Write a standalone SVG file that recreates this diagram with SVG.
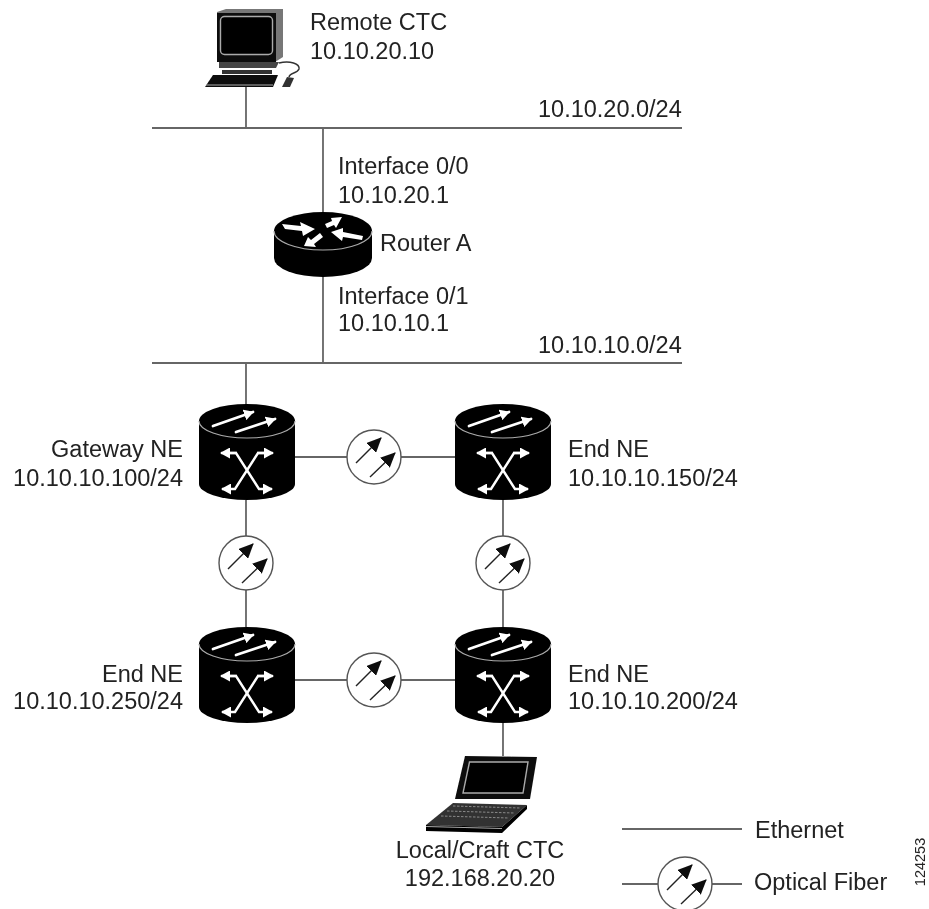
<svg xmlns="http://www.w3.org/2000/svg" width="929" height="909" viewBox="0 0 929 909">
<style>
text{font-family:"Liberation Sans",Arial,sans-serif;font-size:23.5px;fill:#222}
.e{text-anchor:end}
.m{text-anchor:middle}
.c{fill:none;stroke:#666;stroke-width:1.8}
.w{fill:none;stroke:#fff;stroke-width:2.4}
.wt{fill:none;stroke:#fff;stroke-width:2.8;stroke-linecap:round}
.f{fill:none;stroke:#333;stroke-width:1.5}
</style>
<defs>
<filter id="soft" x="0" y="0" width="100%" height="100%"><feGaussianBlur stdDeviation="0.4"/></filter>
<marker id="hw" markerUnits="userSpaceOnUse" markerWidth="11" markerHeight="11" refX="9" refY="5.500" orient="auto"><path d="M0,0L10,5.500L0,11z" fill="#fff"/></marker>
<marker id="hb" markerUnits="userSpaceOnUse" markerWidth="16" markerHeight="14" refX="14" refY="7" orient="auto"><path d="M0,0L15,7L0,14z" fill="#111"/></marker>
<g id="sw">
<path d="M-48,-31A48,17 0 0 1 48,-31V32A48,16 0 0 1 -48,32Z" fill="#000"/>
<path d="M-48,-31A48,17 0 0 0 48,-31" fill="none" stroke="#aaa" stroke-width="1.200"/>
<path class="wt" d="M-34,-26L6,-40" marker-end="url(#hw)"/>
<path class="wt" d="M-11,-20L28,-33" marker-end="url(#hw)"/>
<path class="w" d="M-17,1H-11L12,37H25" marker-end="url(#hw)"/>
<path class="w" d="M17,1H11L-12,37H-25" marker-end="url(#hw)"/>
<path class="w" d="M-10,1H-26" marker-end="url(#hw)"/>
<path class="w" d="M10,1H26" marker-end="url(#hw)"/>
</g>
<g id="fb">
<circle r="27" fill="#fff" stroke="#555" stroke-width="1.400"/>
<path d="M-18,6L7,-19" fill="none" stroke="#222" stroke-width="1.400" marker-end="url(#hb)"/>
<path d="M-4,20L21,-4" fill="none" stroke="#222" stroke-width="1.400" marker-end="url(#hb)"/>
</g>
</defs>
<g filter="url(#soft)">
<g id="connectors">
<path class="c" d="M152,128H682M152,363H682"/>
<path class="c" d="M246,87V128M323,128V213M323,277V363M246,363V405"/>
<path class="c" d="M295,457H347M401,457H455M295,680H347M401,680H455"/>
<path class="c" d="M246,500V536M246,590V627M503,500V536M503,590V627M503,722V756"/>
<path class="c" d="M622,829H742M622,884H660M711,884H742"/>
</g>
<g id="remote-ctc">
<path d="M217,12L226,9H283V57L275,62H217Z" fill="#777"/>
<rect x="217" y="13" width="59" height="49" fill="#111"/>
<rect x="220.500" y="16.500" width="52" height="38" rx="4" fill="#000" stroke="#aaa" stroke-width="1.400"/>
<path d="M219,62H279L276,68H219Z" fill="#444"/>
<path d="M222,70H272V74H222Z" fill="#333"/>
<path d="M213,75H278L273,87H205Z" fill="#111"/>
<path d="M206,85H273" stroke="#aaa" stroke-width="1.200"/>
<path class="f" d="M279,63C290,60 300,64 299,69C297,74 290,72 289,77"/>
<path d="M287,77L294,78L290,87L282,87Z" fill="#333"/>
<text x="310" y="30">Remote CTC</text>
<text x="310" y="59">10.10.20.10</text>
</g>
<g id="router-a">
<path d="M274,231A49,19 0 0 1 372,231V258A49,19 0 0 1 274,258Z" fill="#000"/>
<path d="M274,231A49,19 0 0 0 372,231" fill="none" stroke="#aaa" stroke-width="1.200"/>
<path fill="#fff" d="M282,224L301,226L300,222L315,229L303,236L302,231L285,229Z"/>
<path fill="#fff" d="M342,217L331,218L332,221L325,224L327,228L334,225L336,228Z"/>
<path fill="#fff" d="M331,232L343,228L343,232L363,236L362,240L343,237L342,241Z"/>
<path fill="#fff" d="M304,246L308,237L311,240L320,233L323,237L314,244L316,247Z"/>
<text x="380" y="251">Router A</text>
</g>
<g id="net-20"><text x="538" y="117">10.10.20.0/24</text></g>
<g id="if-00"><text x="338" y="174">Interface 0/0</text><text x="338" y="203">10.10.20.1</text></g>
<g id="if-01"><text x="338" y="304">Interface 0/1</text><text x="338" y="331">10.10.10.1</text></g>
<g id="net-10"><text x="538" y="353">10.10.10.0/24</text></g>
<g id="gateway-ne"><use href="#sw" x="247" y="452"/><text class="e" x="183" y="457">Gateway NE</text><text class="e" x="183" y="486">10.10.10.100/24</text></g>
<g id="end-ne-150"><use href="#sw" x="503" y="452"/><text x="568" y="457">End NE</text><text x="568" y="486">10.10.10.150/24</text></g>
<g id="end-ne-250"><use href="#sw" x="247" y="675"/><text class="e" x="183" y="682">End NE</text><text class="e" x="183" y="709">10.10.10.250/24</text></g>
<g id="end-ne-200"><use href="#sw" x="503" y="675"/><text x="568" y="682">End NE</text><text x="568" y="709">10.10.10.200/24</text></g>
<g id="fiber-top"><use href="#fb" x="374" y="457"/></g>
<g id="fiber-left"><use href="#fb" x="246" y="563"/></g>
<g id="fiber-right"><use href="#fb" x="503" y="563"/></g>
<g id="fiber-bottom"><use href="#fb" x="374" y="680"/></g>
<g id="local-ctc">
<path d="M465,756L537,757L530,799H455Z" fill="#111"/>
<path d="M469.500,762L528,762L523,793H463Z" fill="#000" stroke="#aaa" stroke-width="1.400"/>
<path d="M453,803L527,805L502,827L426,825Z" fill="#333"/>
<path d="M453,806L520,808M447,811L514,813M441,816L509,818" stroke="#888" stroke-width="1" stroke-dasharray="2.500 1.500"/>
<path d="M426,825L502,827L527,805V809L502,833L426,831Z" fill="#000"/>
<path d="M426,826.500L502,828.500" stroke="#aaa" stroke-width="1"/>
<text class="m" x="480" y="858">Local/Craft CTC</text>
<text class="m" x="480" y="886">192.168.20.20</text>
</g>
<g id="legend">
<use href="#fb" x="685" y="884"/>
<text x="755" y="838">Ethernet</text>
<text x="754" y="890">Optical Fiber</text>
<text transform="translate(925,862) rotate(-90)" class="m" style="font-size:14.5px">124253</text>
</g>
</g>
</svg>
